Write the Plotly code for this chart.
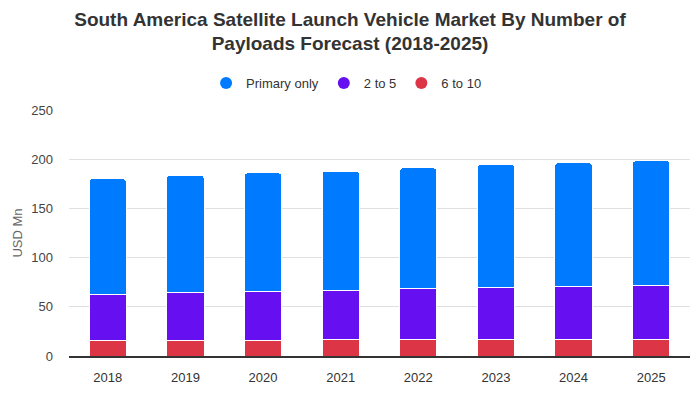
import plotly.graph_objects as go

years = ["2018", "2019", "2020", "2021", "2022", "2023", "2024", "2025"]
primary_only = [117.8, 119.0, 120.7, 121.7, 122.7, 125.1, 125.5, 126.6]
two_to_five = [46.9, 49.0, 50.0, 50.0, 52.1, 53.1, 54.4, 55.4]
six_to_ten = [15.3, 15.3, 15.3, 16.3, 16.3, 16.3, 16.3, 16.3]

names = ["6 to 10", "2 to 5", "Primary only"]
series = [six_to_ten, two_to_five, primary_only]
colors = ["#DC3545", "#6610F2", "#007BFF"]

fig = go.Figure()
for name, vals, col in zip(names, series, colors):
    fig.add_trace(go.Bar(
        x=years, y=vals, name=name, marker=dict(color=col, line=dict(color="white", width=1)),
        showlegend=False, hovertemplate="%{x}: %{y}<extra>" + name + "</extra>",
    ))

# legend entries with circular markers
for name, col in [("Primary only", "#007BFF"), ("2 to 5", "#6610F2"), ("6 to 10", "#DC3545")]:
    fig.add_trace(go.Scatter(
        x=[None], y=[None], mode="markers", name=name,
        marker=dict(color=col, size=13, symbol="circle"), showlegend=True,
    ))

fig.update_layout(
    width=700, height=400,
    barmode="stack", bargap=0.52, barcornerradius=3,
    plot_bgcolor="white", paper_bgcolor="white",
    font=dict(family="Liberation Sans, Arial, sans-serif", size=13, color="#333333"),
    title=dict(
        text="<b>South America Satellite Launch Vehicle Market By Number of<br>Payloads Forecast (2018-2025)</b>",
        x=0.5, xanchor="center", y=0.936, yanchor="middle",
        font=dict(size=19, color="#333333"),
    ),
    legend=dict(orientation="h", x=0.447, xanchor="center", y=1.11, yanchor="middle",
                font=dict(size=13, color="#333333"), itemsizing="constant",
                traceorder="normal", itemwidth=30),
    margin=dict(l=69, r=10, t=110, b=44),
    xaxis=dict(showgrid=False, showline=True, linecolor="#333333", linewidth=2,
               ticks="", ticklabelstandoff=8, tickfont=dict(size=13, color="#333333")),
    yaxis=dict(range=[0, 250], dtick=50, showgrid=True, gridcolor="#E0E0E0", gridwidth=1,
               zeroline=False, ticks="", ticklabelstandoff=15,
               tickfont=dict(size=13, color="#444444"),
               title=dict(text="USD Mn", font=dict(size=13, color="#666666"), standoff=5)),
)

fig.write_html("out.html", post_script="document.body.style.margin='0';",
               config={"displayModeBar": False})
